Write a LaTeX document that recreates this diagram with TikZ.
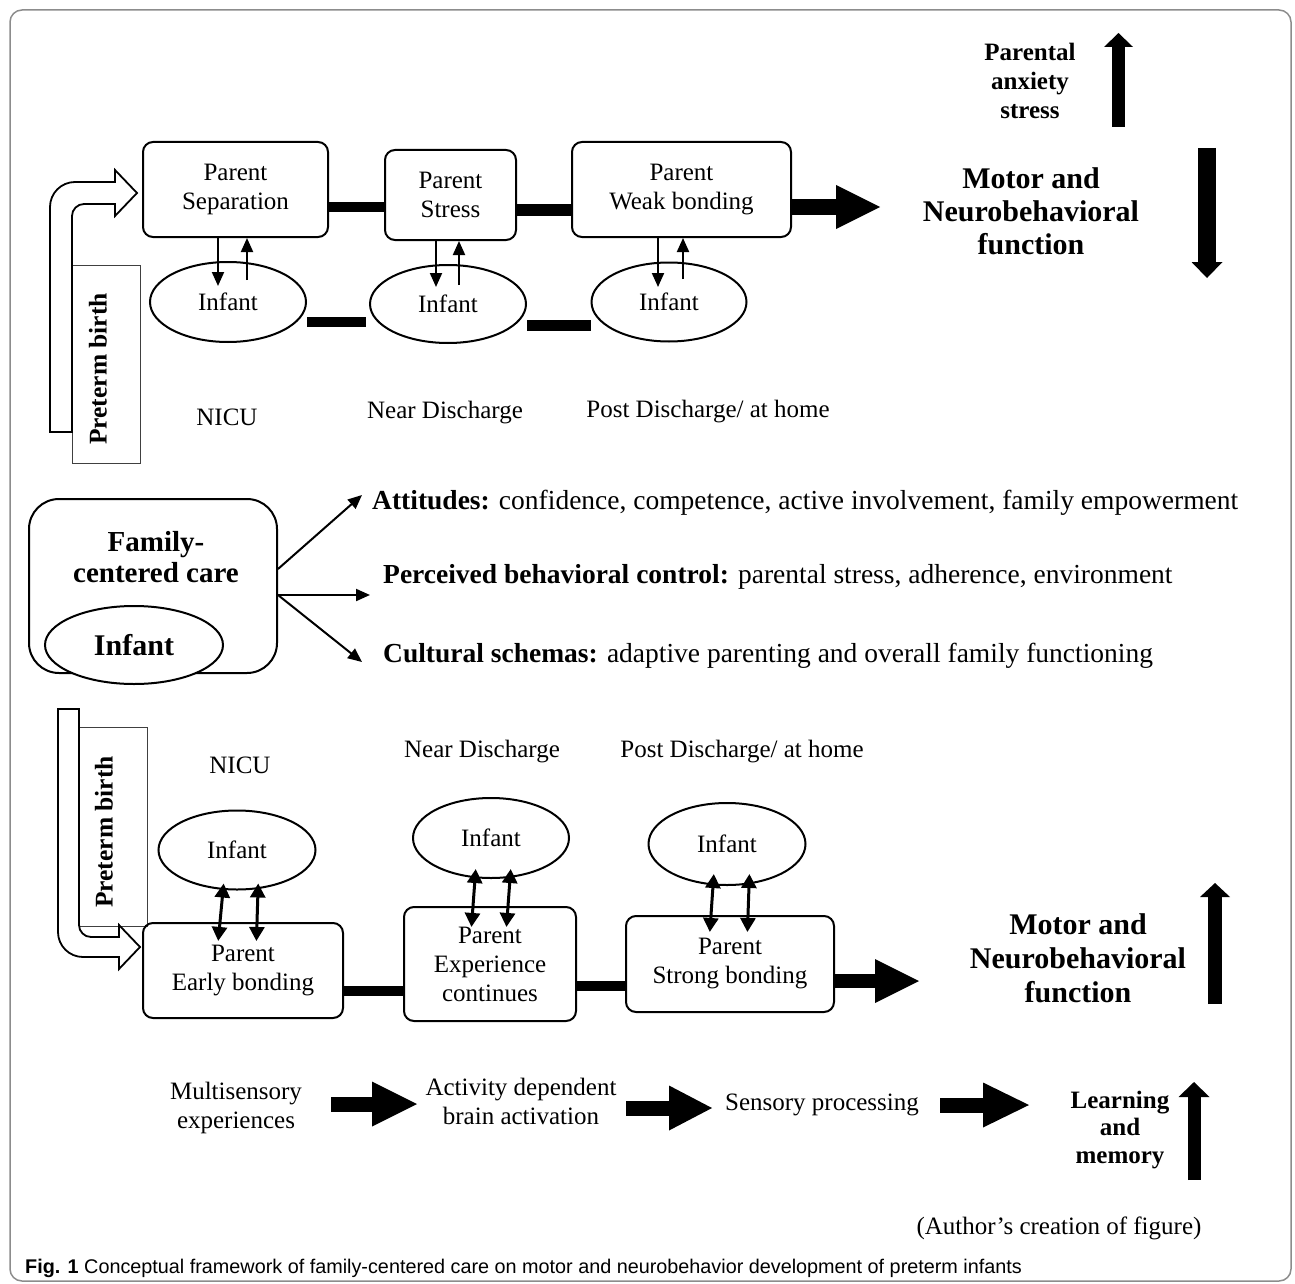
\documentclass[tikz,border=0pt]{standalone}
\usepackage{fontspec}
\setmainfont{Liberation Serif}
\newfontfamily\capsans{Liberation Sans}
\usetikzlibrary{arrows.meta,shapes.geometric}
\begin{document}
\begin{tikzpicture}[x=1pt,y=-1pt,
 rbox/.style={draw, line width=2pt, rounded corners=10pt, inner sep=0pt, align=center, font=\fontsize{25}{29}\selectfont},
 inf/.style={draw, fill=white, ellipse, line width=2pt, inner sep=0pt, font=\fontsize{25}{29}\selectfont},
 lbl/.style={inner sep=0pt, align=center, font=\fontsize{25}{29}\selectfont},
 blbl/.style={inner sep=0pt, align=center, font=\bfseries\fontsize{30}{33}\selectfont},
 pbox/.style={draw=black!75, line width=0.8pt, inner sep=0pt},
 pbtext/.style={rotate=90, inner sep=0pt, font=\bfseries\fontsize{25.5}{30}\selectfont},
 bent/.style={draw, fill=white, line width=1.8pt, line join=miter},
 sarr/.style={line width=2pt, arrows={-Triangle[length=14pt,width=12pt]}},
 darr/.style={line width=3pt, arrows={Triangle[length=14pt,width=15pt]-Triangle[length=14pt,width=15pt]}},
 fat/.style args={#1/#2/#3}{line width=#1, arrows={-Triangle[length=#2,width=#3,line width=0pt]}},
]
\path[use as bounding box] (0,0) rectangle (1295,1284);
\draw[black!45, line width=1.5pt, rounded corners=12pt] (10,10) rectangle (1291,1281);

% ---------- top section ----------
\node[pbox, minimum width=68pt, minimum height=198pt] (pb1) at (106,364) {};
\draw[bent] (50,432) -- (50,207) arc[start angle=180,end angle=270,radius=25] -- (115,182) -- (115,170) -- (137,193) -- (115,216) -- (115,204) -- (84,204) arc[start angle=270,end angle=180,radius=12] -- (72,432) -- cycle;
\node[pbtext] (pbt1) at (98,369) {Preterm birth};

\node[rbox, minimum width=185pt, minimum height=95pt] (sep) at (235.5,189.5) {Parent\\Separation};
\node[rbox, minimum width=131pt, minimum height=90pt] (stress) at (450.5,195) {Parent\\Stress};
\node[rbox, minimum width=219pt, minimum height=95pt] (weak) at (681.5,189.5) {Parent\\Weak bonding};

\node[inf, minimum width=156pt, minimum height=80pt] (inf1) at (228,302) {Infant};
\node[inf, minimum width=156pt, minimum height=78pt] (inf2) at (448,304) {Infant};
\node[inf, minimum width=155pt, minimum height=79pt] (inf3) at (669,302) {Infant};

\draw[line width=10pt] (sep.east |- 0,207) -- (stress.west |- 0,207);
\draw[line width=11pt] (stress.east |- 0,210) -- (weak.west |- 0,210);
\draw[line width=10pt, shorten >=3pt] (inf1.east |- 0,322) -- (inf2.west |- 0,322);
\draw[line width=11pt] (inf2.east |- 0,325) -- (inf3.west |- 0,325);

\coordinate (t1) at (880,207);
\draw[fat=16pt/44pt/44pt] (weak.east |- 0,207) -- (t1);

\draw[sarr, shorten >=16pt] (sep.south -| 218,0) -- (inf1.center -| 218,0);
\draw[sarr, shorten <=22pt] (inf1.center -| 247,0) -- (sep.south -| 247,0);
\draw[sarr, shorten >=17pt] (stress.south -| 436,0) -- (inf2.center -| 436,0);
\draw[sarr, shorten <=19pt] (inf2.center -| 459,0) -- (stress.south -| 459,0);
\draw[sarr, shorten >=15pt] (weak.south -| 658,0) -- (inf3.center -| 658,0);
\draw[sarr, shorten <=23pt] (inf3.center -| 683,0) -- (weak.south -| 683,0);

\node[lbl] (nicu1) at (227,417) {NICU};
\node[lbl] (near1) at (445,413) {Near Discharge};
\node[lbl] (post1) at (708,412) {Post Discharge/ at home};

\node[blbl, font=\bfseries\fontsize{25}{29}\selectfont] (pas) at (1030,81) {Parental\\anxiety\\stress};
\node[blbl] (mn1) at (1031,211) {Motor and\\Neurobehavioral\\function};
\coordinate (u1a) at (1118.5,127); \coordinate (u1b) at (1118.5,33);
\draw[fat=13pt/14pt/29pt] (u1a) -- (u1b);
\coordinate (d1a) at (1207,148); \coordinate (d1b) at (1207,278);
\draw[fat=18pt/16pt/31pt] (d1a) -- (d1b);

% ---------- middle section ----------
\node[draw, line width=2pt, rounded corners=30pt, minimum width=248pt, minimum height=174pt, inner sep=0pt] (fcc) at (153,586) {};
\node[blbl, font=\bfseries\fontsize{29}{31}\selectfont] (fcct) at (156,557) {Family-\\centered care};
\node[inf, minimum width=178pt, minimum height=78pt, font=\bfseries\fontsize{30}{34}\selectfont] (finf) at (134,645) {Infant};

\node[lbl, anchor=west, font=\fontsize{27.5}{32}\selectfont] (att) at (372,503) {\textbf{Attitudes:} confidence, competence, active involvement, family empowerment};
\node[lbl, anchor=west, font=\fontsize{27.5}{32}\selectfont] (pbc) at (383,577) {\textbf{Perceived behavioral control:} parental stress, adherence, environment};
\node[lbl, anchor=west, font=\fontsize{27.5}{32}\selectfont] (cs) at (383,656) {\textbf{Cultural schemas:} adaptive parenting and overall family functioning};
\coordinate (aA) at (362,495); \coordinate (aP) at (370,595); \coordinate (aC) at (362,662);
\draw[sarr] (fcc.east |- 0,569) -- (aA);
\draw[sarr] (fcc.east |- 0,595) -- (aP);
\draw[sarr] (fcc.east |- 0,595) -- (aC);

% ---------- bottom section ----------
\node[pbox, minimum width=68pt, minimum height=199pt] (pb2) at (113,826.5) {};
\draw[bent] (58,709) -- (79,709) -- (79,925) arc[start angle=180,end angle=90,radius=12] -- (119,937) -- (119,925) -- (140,947) -- (119,969) -- (119,957) -- (83,957) arc[start angle=90,end angle=180,radius=25] -- cycle;
\node[pbtext] (pbt2) at (104,832) {Preterm birth};

\node[lbl] (nicu2) at (240,765) {NICU};
\node[lbl] (near2) at (482,752) {Near Discharge};
\node[lbl] (post2) at (742,752) {Post Discharge/ at home};

\node[inf, minimum width=157pt, minimum height=79pt] (binf1) at (237,850) {Infant};
\node[inf, minimum width=156pt, minimum height=80pt] (binf2) at (491,838) {Infant};
\node[inf, minimum width=157pt, minimum height=82pt] (binf3) at (727,844) {Infant};

\node[rbox, minimum width=200pt, minimum height=95pt] (early) at (243,970.5) {Parent\\Early bonding};
\node[rbox, minimum width=172pt, minimum height=114pt] (exp) at (490,964) {Parent\\Experience\\continues};
\node[rbox, minimum width=208pt, minimum height=96pt] (strong) at (730,964) {Parent\\Strong bonding};

\draw[line width=10pt] (early.east |- 0,991) -- (exp.west |- 0,991);
\draw[line width=10pt] (exp.east |- 0,986) -- (strong.west |- 0,986);
\coordinate (t2) at (919,981);
\draw[fat=14pt/44pt/44pt] (strong.east |- 0,981) -- (t2);

\draw[darr, shorten <=-7pt, shorten >=-19pt] (binf1.south -| 223,0) -- (early.north -| 220,0);
\draw[darr, shorten <=-7pt, shorten >=-19pt] (binf1.south -| 258,0) -- (early.north -| 257,0);
\draw[darr, shorten <=-10pt, shorten >=-21pt] (binf2.south -| 475,0) -- (exp.north -| 473,0);
\draw[darr, shorten <=-10pt, shorten >=-21pt] (binf2.south -| 510,0) -- (exp.north -| 508,0);
\draw[darr, shorten <=-12pt, shorten >=-17pt] (binf3.south -| 713,0) -- (strong.north -| 711,0);
\draw[darr, shorten <=-12pt, shorten >=-17pt] (binf3.south -| 749,0) -- (strong.north -| 748,0);

\node[blbl, font=\bfseries\fontsize{30}{34}\selectfont] (mn2) at (1078,958) {Motor and\\Neurobehavioral\\function};
\coordinate (u2a) at (1215,1004); \coordinate (u2b) at (1215,883);
\draw[fat=14pt/14pt/30pt] (u2a) -- (u2b);

% ---------- flow row ----------
\node[lbl] (ms) at (236,1108) {Multisensory\\experiences};
\node[lbl] (ad) at (521,1101) {Activity dependent\\brain activation};
\node[lbl] (sp) at (822,1105) {Sensory processing};
\node[blbl, font=\bfseries\fontsize{25}{27.5}\selectfont] (lm) at (1120,1130) {Learning\\and\\memory};
\coordinate (f1a) at (331,1104); \coordinate (f1b) at (417,1104);
\draw[fat=15pt/45pt/45pt] (f1a) -- (f1b);
\coordinate (f2a) at (626,1108); \coordinate (f2b) at (712,1108);
\draw[fat=15pt/43pt/45pt] (f2a) -- (f2b);
\coordinate (f3a) at (940,1105); \coordinate (f3b) at (1029,1105);
\draw[fat=15pt/46pt/45pt] (f3a) -- (f3b);
\coordinate (u3a) at (1194,1180); \coordinate (u3b) at (1194,1082);
\draw[fat=13pt/15pt/31pt] (u3a) -- (u3b);

\node[lbl] (auth) at (1059,1228) {(Author’s creation of figure)};
\node[anchor=base west, inner sep=0pt, font=\capsans\fontsize{19.8}{22}\selectfont] (cap) at (25,1273) {\textbf{Fig. 1} Conceptual framework of family-centered care on motor and neurobehavior development of preterm infants};
\end{tikzpicture}
\end{document}
